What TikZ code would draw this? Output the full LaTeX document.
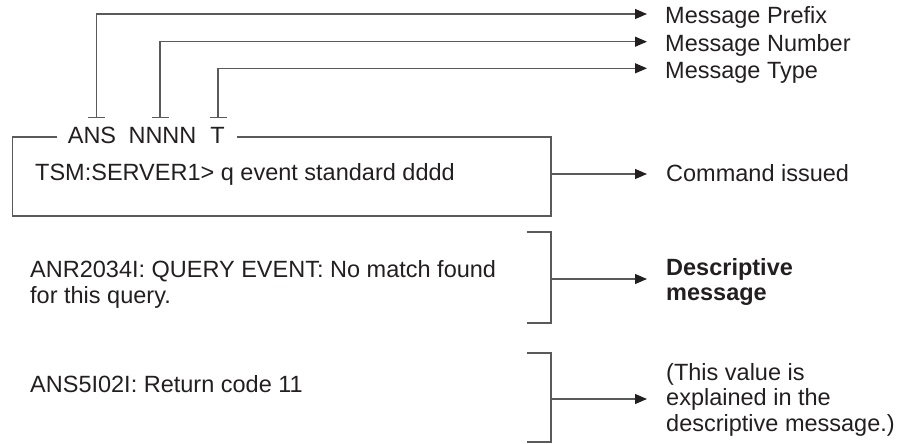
\documentclass[tikz,border=0pt]{standalone}
\usepackage{fontspec}
\setmainfont{Liberation Sans}
\usetikzlibrary{arrows.meta}
\definecolor{linegray}{HTML}{5A5A5A}
\definecolor{txt}{HTML}{231F20}
\tikzset{
  conn/.style={draw=linegray, line width=1.2pt},
  arr/.style={conn, -{Triangle[length=12pt,width=10pt,color=txt]}},
  barr/.style={conn, {Bar[width=17pt]}-{Triangle[length=12pt,width=10pt,color=txt]}},
  lbl/.style={inner sep=0pt, anchor=base west, text=txt, font=\fontsize{23.5}{26}\selectfont},
  hlbl/.style={lbl, anchor=base}
}
\begin{document}
\begin{tikzpicture}[x=1pt,y=-1pt]
\useasboundingbox (0,0) rectangle (905,444);
% top labels
\node[lbl] (prefix) at (665,24) {Message Prefix};
\node[lbl] (number) at (665,52) {Message Number};
\node[lbl] (type) at (665,78) {Message Type};
% header of box
\node[hlbl] (hans) at (92,143) {ANS};
\node[hlbl] (hnnnn) at (162.5,143) {NNNN};
\node[hlbl] (ht) at (217.5,143) {T};
\coordinate (pbot) at (96.7,118);
\coordinate (nbot) at (160,118);
\coordinate (tbot) at (218,118);
\coordinate (ptip) at (647,14);
\coordinate (ntip) at (647,41.7);
\coordinate (ttip) at (647,68.3);
\draw[barr] (pbot) |- (ptip);
\draw[barr] (nbot) |- (ntip);
\draw[barr] (tbot) |- (ttip);
% box
\coordinate (bl) at (12.7,137);
\coordinate (br) at (551,137);
\coordinate (bbl) at (12.7,216);
\coordinate (bbr) at (551,216);
\draw[conn] (57,137) -- (bl) -- (bbl) -- (bbr) -- (br) -- (237,137);
\node[lbl] (cmd) at (35,180) {TSM:SERVER1> q event standard dddd};
\node[lbl] (cmdlbl) at (666,181) {Command issued};
\coordinate (cmdfrom) at (551,174);
\coordinate (cmdtip) at (647,174);
\draw[arr] (cmdfrom) -- (cmdtip);
% descriptive message
\node[lbl] (anr1) at (30,277) {ANR2034I: QUERY EVENT: No match found};
\node[lbl] (anr2) at (30,303) {for this query.};
\coordinate (b1a) at (527,232);
\coordinate (b1b) at (551,232);
\coordinate (b1c) at (551,323);
\coordinate (b1d) at (527,323);
\draw[conn] (b1a) -- (b1b) -- (b1c) -- (b1d);
\coordinate (b1from) at (551,279);
\coordinate (b1tip) at (647,279);
\draw[arr] (b1from) -- (b1tip);
\node[lbl, font=\fontsize{23.5}{26}\selectfont\bfseries] (desc1) at (666,275) {Descriptive};
\node[lbl, font=\fontsize{23.5}{26}\selectfont\bfseries] (desc2) at (666,300) {message};
% return code
\node[lbl] (ret) at (30,392) {ANS5I02I: Return code 11};
\coordinate (b2a) at (527,353);
\coordinate (b2b) at (551,353);
\coordinate (b2c) at (551,442);
\coordinate (b2d) at (527,442);
\draw[conn] (b2a) -- (b2b) -- (b2c) -- (b2d);
\coordinate (b2from) at (551,399);
\coordinate (b2tip) at (647,399);
\draw[arr] (b2from) -- (b2tip);
\node[lbl] (expl1) at (666,380) {(This value is};
\node[lbl] (expl2) at (666,405) {explained in the};
\node[lbl] (expl3) at (666,431) {descriptive message.)};
\end{tikzpicture}
\end{document}
